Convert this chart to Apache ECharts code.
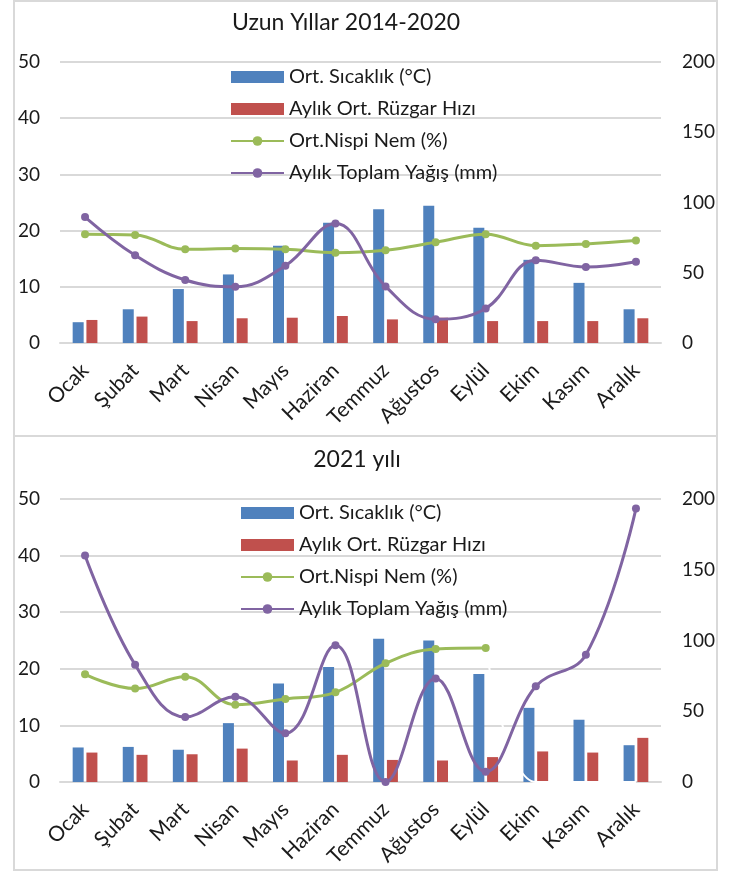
<!DOCTYPE html>
<html>
<head>
<meta charset="utf-8">
<script src="https://cdn.jsdelivr.net/npm/echarts@6/dist/echarts.min.js"></script>
<style>
html,body{margin:0;padding:0;background:#fff;}
#c{width:732px;height:872px;}
</style>
</head>
<body>
<div id="c"></div>
<script>
const months = ['Ocak','Şubat','Mart','Nisan','Mayıs','Haziran','Temmuz','Ağustos','Eylül','Ekim','Kasım','Aralık'];
const seriesNames = ['Ort. Sıcaklık (°C)','Aylık Ort. Rüzgar Hızı','Ort.Nispi Nem (%)','Aylık Toplam Yağış (mm)'];
const titles = ['Uzun Yıllar 2014-2020','2021 yılı'];
const leftTicks = {min:0, max:50, interval:10};
const rightTicks = {min:0, max:200, interval:50};

// Uzun Yıllar 2014-2020
const tempLong = [3.7,6.0,9.6,12.2,17.3,21.4,23.8,24.4,20.5,14.8,10.7,6.0];
const windLong = [4.1,4.7,3.9,4.4,4.5,4.8,4.2,4.5,3.9,3.9,3.9,4.4];
const humLong = [77.4,76.9,66.7,67.2,66.7,64.3,66.0,71.7,77.4,69.3,70.5,72.9];
const rainLong = [89.6,62.4,44.8,40.0,55.0,85.0,40.3,16.9,24.6,58.9,54.1,57.9];

// 2021 yılı
const temp2021 = [6.1,6.2,5.7,10.4,17.4,20.3,25.3,25.0,19.1,13.1,11.0,6.5];
const wind2021 = [5.2,4.8,4.9,5.9,3.8,4.8,3.9,3.8,4.4,5.4,5.2,7.8];
const hum2021 = [76.1,66.0,74.4,54.6,58.7,63.4,83.9,94.0,94.7,null,null,null];
const humTail2021 = [null,null,null,null,null,null,null,null,94.7,0,0,0];
const rain2021 = [160,82.9,45.9,60.3,34.4,96.6,0,73.2,7.3,67.6,90,193.2];

const FONT = 'Lato';
const TXT = '#1a1a1a';
const GRIDC = '#d9d9d9';
const colors = ['#4F81BD','#C0504D','#9BBB59','#8064A2'];

const grids = [
  {left:60, top:62, width:601, height:281},
  {left:60, top:499, width:601, height:283}
];

function xAxisFor(i){
  return {type:'category', gridIndex:i, data:months,
    axisLine:{lineStyle:{color:GRIDC,width:2}}, axisTick:{show:false},
    axisLabel:{rotate:45, margin:24, fontFamily:FONT, fontSize:21, color:TXT, interval:0}};
}
function yLeft(i){
  return {type:'value', gridIndex:i, min:leftTicks.min, max:leftTicks.max, interval:leftTicks.interval,
    axisLine:{show:false}, axisTick:{show:false},
    splitLine:{lineStyle:{color:GRIDC,width:2}},
    axisLabel:{margin:20, fontFamily:FONT, fontSize:19, color:TXT}};
}
function yRight(i){
  return {type:'value', gridIndex:i, position:'right', min:rightTicks.min, max:rightTicks.max, interval:rightTicks.interval,
    axisLine:{show:false}, axisTick:{show:false}, splitLine:{show:false},
    axisLabel:{margin:21, fontFamily:FONT, fontSize:19, color:TXT}};
}
function seriesFor(i, t, w, h, r){
  const xi=i, yl=i*2, yr=i*2+1;
  return [
    {name:seriesNames[0], type:'bar', xAxisIndex:xi, yAxisIndex:yl, data:t, barWidth:11, barGap:'25%',
      itemStyle:{color:colors[0]}},
    {name:seriesNames[1], type:'bar', xAxisIndex:xi, yAxisIndex:yl, data:w, barWidth:11, barGap:'25%',
      itemStyle:{color:colors[1]}},
    {name:seriesNames[2], type:'line', xAxisIndex:xi, yAxisIndex:yr, data:h, smooth:0.4,
      symbol:'circle', symbolSize:8, lineStyle:{color:colors[2],width:3}, itemStyle:{color:colors[2]}, z:3},
    {name:seriesNames[3], type:'line', xAxisIndex:xi, yAxisIndex:yr, data:r, smooth:0.4,
      symbol:'circle', symbolSize:8, lineStyle:{color:colors[3],width:3}, itemStyle:{color:colors[3]}, z:4}
  ];
}
function legendFor(i, left, top){
  return {orient:'vertical', left:left, top:top, padding:0, itemWidth:53, itemHeight:12, itemGap:12,
    data:seriesNames.map(n=>({name:n, icon: n===seriesNames[0]||n===seriesNames[1] ? 'rect' : undefined})),
    textStyle:{fontFamily:FONT, fontSize:20, color:TXT, lineHeight:20},
    selectedMode:false};
}

const series = [].concat(
  seriesFor(0, tempLong, windLong, humLong, rainLong),
  seriesFor(1, temp2021, wind2021, hum2021, rain2021),
  [{name:'_tail', type:'line', xAxisIndex:1, yAxisIndex:3, data:humTail2021, smooth:0.4,
    symbol:'none', lineStyle:{color:'#ffffff', width:2}, z:3, silent:true}]
);

const chart = echarts.init(document.getElementById('c'), null, {renderer:'canvas'});
chart.setOption({
  animation:false,
  backgroundColor:'#fff',
  title:[
    {text:titles[0], left:341, top:6, textAlign:'center', textStyle:{fontFamily:FONT, fontSize:23, fontWeight:'normal', color:TXT}},
    {text:titles[1], left:352, top:443, textAlign:'center', textStyle:{fontFamily:FONT, fontSize:23, fontWeight:'normal', color:TXT}}
  ],
  grid:grids,
  legend:[legendFor(0, 230, 67), legendFor(1, 240, 503)],
  xAxis:[xAxisFor(0), xAxisFor(1)],
  yAxis:[yLeft(0), yRight(0), yLeft(1), yRight(1)],
  series:series,
  graphic:[
    {type:'rect', shape:{x:14, y:1, width:703, height:435}, style:{fill:null, stroke:GRIDC, lineWidth:2}, silent:true, z:-1},
    {type:'rect', shape:{x:14, y:436, width:703, height:434}, style:{fill:null, stroke:GRIDC, lineWidth:2}, silent:true, z:-1}
  ]
});
</script>
</body>
</html>
